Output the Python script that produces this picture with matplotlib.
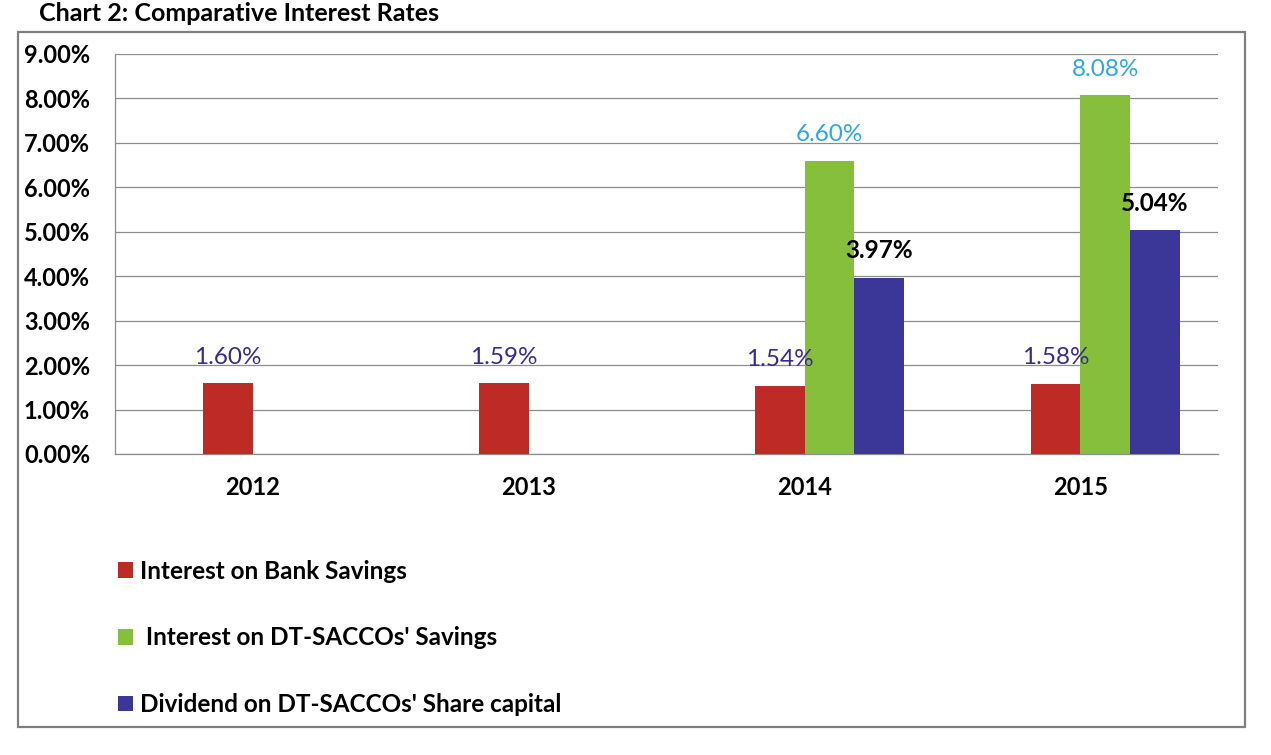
import numpy as np
import matplotlib
matplotlib.use("Agg")
import matplotlib.pyplot as plt
from matplotlib.patches import Rectangle
from matplotlib.ticker import FuncFormatter

# values (percent)
years = ["2012", "2013", "2014", "2015"]
bank_savings = [1.60, 1.59, 1.54, 1.58]
sacco_savings = [np.nan, np.nan, 6.60, 8.08]
sacco_dividend = [np.nan, np.nan, 3.97, 5.04]
series_names = ["Interest on Bank Savings",
                " Interest on DT-SACCOs' Savings",
                "Dividend on DT-SACCOs' Share capital"]
yticks = [0, 1, 2, 3, 4, 5, 6, 7, 8, 9]

RED = "#BE2B26"
GREEN = "#86BF3B"
BLUE = "#3B3799"

plt.rcParams['font.family'] = ['Lato', 'DejaVu Sans']

fig = plt.figure(figsize=(12.71, 7.55), dpi=100)
ax = fig.add_axes([0.0905, 0.3987, 0.868, 0.5298])

x = np.arange(len(years))
w = 0.18
# Excel-style cluster with an empty first slot, so the visible bars sit right of centre
b1 = ax.bar(x - 0.5 * w, bank_savings, w, color=RED, label=series_names[0], zorder=3)
b2 = ax.bar(x + 0.5 * w, sacco_savings, w, color=GREEN, label=series_names[1], zorder=3)
b3 = ax.bar(x + 1.5 * w, sacco_dividend, w, color=BLUE, label=series_names[2], zorder=3)


def fmt_labels(vals):
    return ["" if np.isnan(v) else f"{v:.2f}%" for v in vals]


ax.bar_label(b1, labels=fmt_labels(bank_savings), padding=11,
             color="#3A2A8E", fontsize=17.5)
ax.bar_label(b2, labels=fmt_labels(sacco_savings), padding=11,
             color="#2BA6E6", fontsize=17.5)
ax.bar_label(b3, labels=fmt_labels(sacco_dividend), padding=11,
             color="black", fontsize=17.5, fontweight="bold")

ax.set_xlim(-0.5, len(years) - 0.5)
ax.set_ylim(0, 9)
ax.set_yticks(yticks)
ax.yaxis.set_major_formatter(FuncFormatter(lambda v, p: f"{v:.2f}%"))
ax.set_xticks(x)
ax.set_xticklabels(years)
ax.tick_params(axis="y", length=0, pad=18, labelsize=17)
ax.tick_params(axis="x", length=0, pad=16, labelsize=17)
for lab in ax.get_xticklabels() + ax.get_yticklabels():
    lab.set_fontweight("bold")

ax.grid(axis="y", color="#8C8C8C", linewidth=0.9, zorder=0)
ax.set_axisbelow(True)
for side in ["top", "right"]:
    ax.spines[side].set_visible(False)
for side in ["left", "bottom"]:
    ax.spines[side].set_color("#8C8C8C")
    ax.spines[side].set_linewidth(0.9)

leg = fig.legend(handles=[b1, b2, b3], loc="upper left",
                 bbox_to_anchor=(0.083, 0.275), frameon=False,
                 fontsize=17.5, handlelength=0.62, handleheight=0.62,
                 handletextpad=0.3, labelspacing=1.8, borderpad=0)
for t in leg.get_texts():
    t.set_fontweight("bold")

# outer chart border
fig.patches.append(Rectangle((0.0142, 0.037), 0.965, 0.9205, transform=fig.transFigure,
                             fill=False, edgecolor="#7F7F7F", linewidth=1.6))

# title above the chart box
fig.text(0.031, 0.9725, "Chart 2: Comparative Interest Rates", fontsize=18,
         fontweight="bold", va="baseline", ha="left")

fig.savefig("out.png", dpi=100)
